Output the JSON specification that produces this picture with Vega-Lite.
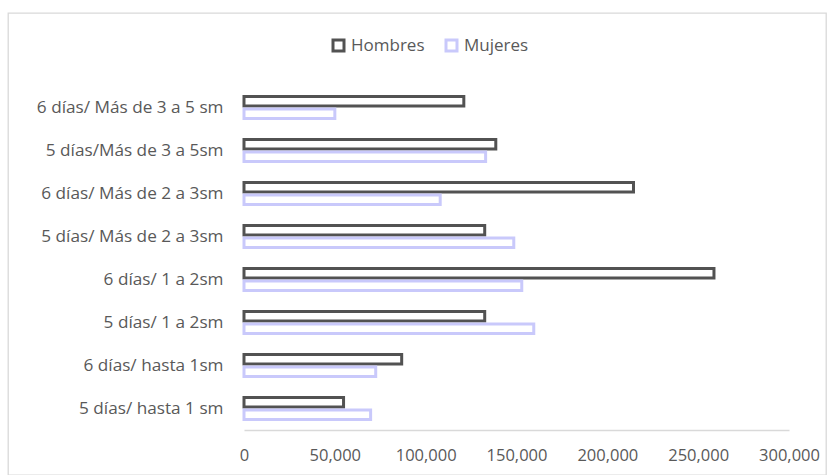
{
  "$schema": "https://vega.github.io/schema/vega-lite/v6.json",
  "width": 818,
  "height": 462,
  "autosize": {"type": "none"},
  "padding": {"left": 8, "top": 13, "right": 7, "bottom": 0},
  "config": {"view": {"stroke": "#d9d9d9", "strokeWidth": 1.3}, "font": "Open Sans"},
  "data": {
    "values": [
      {"categoria": "6 días/ Más de 3 a 5 sm", "sexo": "Hombres", "valor": 121000},
      {"categoria": "6 días/ Más de 3 a 5 sm", "sexo": "Mujeres", "valor": 50000},
      {"categoria": "5 días/Más de 3 a 5sm", "sexo": "Hombres", "valor": 138600},
      {"categoria": "5 días/Más de 3 a 5sm", "sexo": "Mujeres", "valor": 133000},
      {"categoria": "6 días/ Más de 2 a 3sm", "sexo": "Hombres", "valor": 214400},
      {"categoria": "6 días/ Más de 2 a 3sm", "sexo": "Mujeres", "valor": 108000},
      {"categoria": "5 días/ Más de 2 a 3sm", "sexo": "Hombres", "valor": 132500},
      {"categoria": "5 días/ Más de 2 a 3sm", "sexo": "Mujeres", "valor": 148500},
      {"categoria": "6 días/ 1 a 2sm", "sexo": "Hombres", "valor": 258700},
      {"categoria": "6 días/ 1 a 2sm", "sexo": "Mujeres", "valor": 152900},
      {"categoria": "5 días/ 1 a 2sm", "sexo": "Hombres", "valor": 132500},
      {"categoria": "5 días/ 1 a 2sm", "sexo": "Mujeres", "valor": 159500},
      {"categoria": "6 días/ hasta 1sm", "sexo": "Hombres", "valor": 86800},
      {"categoria": "6 días/ hasta 1sm", "sexo": "Mujeres", "valor": 72500},
      {"categoria": "5 días/ hasta 1 sm", "sexo": "Hombres", "valor": 54800},
      {"categoria": "5 días/ hasta 1 sm", "sexo": "Mujeres", "valor": 69700}
    ]
  },
  "mark": {"type": "bar", "fill": "white", "strokeWidth": 3, "strokeJoin": "miter"},
  "encoding": {
    "y": {
      "field": "categoria",
      "type": "nominal",
      "sort": ["6 días/ Más de 3 a 5 sm", "5 días/Más de 3 a 5sm", "6 días/ Más de 2 a 3sm", "5 días/ Más de 2 a 3sm", "6 días/ 1 a 2sm", "5 días/ 1 a 2sm", "6 días/ hasta 1sm", "5 días/ hasta 1 sm"],
      "scale": {"range": [73, 417], "paddingInner": 0.484, "paddingOuter": 0.242},
      "axis": {"title": null, "offset": -236, "domain": false, "ticks": false, "labelPadding": 21, "labelFontSize": 17.2, "labelLimit": 0, "labelColor": "#595959"}
    },
    "yOffset": {
      "field": "sexo",
      "type": "nominal",
      "sort": ["Hombres", "Mujeres"],
      "scale": {"paddingInner": 0.24, "paddingOuter": 0}
    },
    "x": {
      "field": "valor",
      "type": "quantitative",
      "scale": {"domain": [0, 300000], "range": [236, 781], "nice": false},
      "axis": {"title": null, "offset": -45, "grid": false, "ticks": false, "tickSize": 0, "domainColor": "#d9d9d9", "domainWidth": 1.3, "format": ",.0f", "values": [0, 50000, 100000, 150000, 200000, 250000, 300000], "labelFlush": false, "labelPadding": 17, "labelFontSize": 16.5, "labelColor": "#595959"}
    },
    "stroke": {
      "field": "sexo",
      "type": "nominal",
      "scale": {"domain": ["Hombres", "Mujeres"], "range": ["#525252", "#c9c9fb"]},
      "legend": {"orient": "none", "direction": "horizontal", "legendX": 322, "legendY": 24, "title": null, "symbolType": "square", "symbolSize": 121, "symbolStrokeWidth": 3, "symbolFillColor": "white", "labelFontSize": 17, "labelColor": "#595959", "columnPadding": 15, "labelOffset": 4, "padding": 0}
    }
  }
}
